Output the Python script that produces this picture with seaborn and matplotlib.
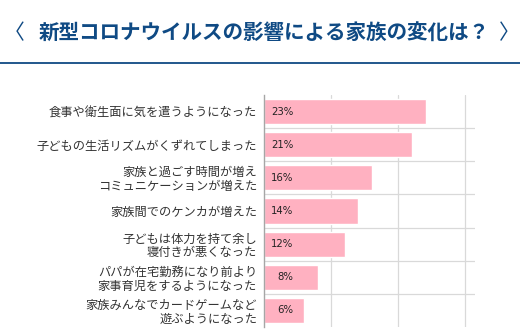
import matplotlib
matplotlib.use("Agg")
import matplotlib.pyplot as plt
import seaborn as sns
import pandas as pd
from matplotlib.lines import Line2D

categories = [
    "食事や衛生面に気を遣うようになった",
    "子どもの生活リズムがくずれてしまった",
    "家族と過ごす時間が増え\nコミュニケーションが増えた",
    "家族間でのケンカが増えた",
    "子どもは体力を持て余し\n寝付きが悪くなった",
    "パパが在宅勤務になり前より\n家事育児をするようになった",
    "家族みんなでカードゲームなど\n遊ぶようになった",
]
values = [24.2, 22.1, 16.1, 14.0, 12.1, 8.0, 6.0]
value_labels = ["23%", "21%", "16%", "14%", "12%", "8%", "6%"]
title = "新型コロナウイルスの影響による家族の変化は？"

sns.set_theme(style="white")
plt.rcParams['font.family'] = ['Noto Sans CJK JP', 'DejaVu Sans']

df = pd.DataFrame({"cat": categories, "val": values})

fig = plt.figure(figsize=(5.2, 3.35), dpi=100)
ax = fig.add_axes([264/520, 1-327/335, (475-264)/520, (327-95)/335])

sns.barplot(data=df, x="val", y="cat", orient="h", color="#FFB1C1",
            saturation=1, width=0.76, ax=ax)

ax.set_xlim(0, 31.5)
ax.set_ylim(len(categories)-0.5, -0.5)
ax.set_xticks([10, 20, 30])
ax.set_xticklabels([])
ax.set_yticks(range(len(categories)))
ax.set_yticks([i + 0.5 for i in range(len(categories)-1)], minor=True)
ax.grid(True, axis="x", color="#d9d9d9", linewidth=0.9)
ax.grid(True, axis="y", which="minor", color="#d9d9d9", linewidth=0.9)
ax.grid(False, axis="y", which="major")
ax.set_axisbelow(True)
ax.tick_params(axis="both", which="both", length=0)
ax.tick_params(axis="y", which="major", pad=5, labelsize=8.8, labelcolor="#333333")
for lbl in ax.get_yticklabels():
    lbl.set_linespacing(1.08)
ax.set_xlabel("")
ax.set_ylabel("")
for s in ["top", "right", "bottom"]:
    ax.spines[s].set_visible(False)
ax.spines["left"].set_color("#a6a6a6")
ax.spines["left"].set_linewidth(1.0)

for i, lab in enumerate(value_labels):
    ax.annotate(lab, xy=(0, i), xycoords="data", xytext=(21, 0),
                textcoords="offset points", ha="right", va="center",
                fontsize=7.3, color="#222222", family=["DejaVu Sans"])

tc = "#0f4a84"
fig.text(14/520, 1-33/335, "〈", ha="center", va="center", fontsize=15, color=tc)
fig.text(39/520, 1-33/335, title, ha="left", va="center", fontsize=14.8,
         fontweight="bold", color=tc)
fig.text(509/520, 1-33/335, "〉", ha="center", va="center", fontsize=15, color=tc)
fig.add_artist(Line2D([0, 1], [1-63/335, 1-63/335], transform=fig.transFigure,
                      color=tc, linewidth=1.3))

fig.savefig("out.png", dpi=100)
